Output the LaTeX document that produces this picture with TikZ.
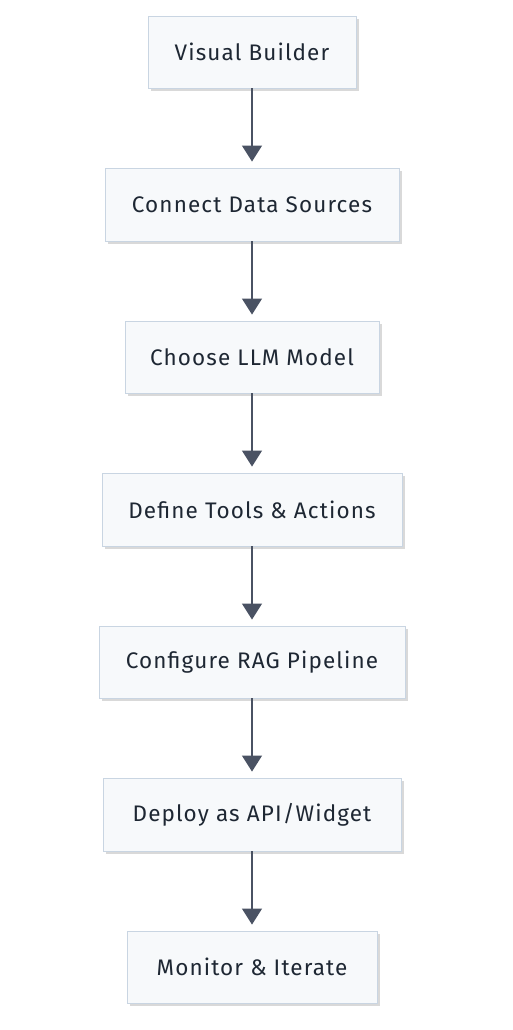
\documentclass[tikz,border=0pt]{standalone}
\usepackage{fontspec}
\setmainfont{Fira Sans}[LetterSpace=5]
\usetikzlibrary{shadows,arrows.meta}
\definecolor{boxfill}{HTML}{F7F9FB}
\definecolor{boxline}{HTML}{C9D5E2}
\definecolor{arrowc}{HTML}{4A5263}
\definecolor{textc}{HTML}{1E2733}
\tikzset{
  stepbox/.style={draw=boxline, line width=0.9pt, fill=boxfill, inner sep=0pt,
    font=\fontsize{22.5}{26}\selectfont, text=textc,
    drop shadow={shadow xshift=2.5pt, shadow yshift=-3pt, fill=black, opacity=0.15}},
  flow/.style={draw=arrowc, line width=1.3pt, -{Triangle[width=20pt,length=16pt]}, shorten >=6pt}
}
\begin{document}
\begin{tikzpicture}[x=1pt,y=-1pt]
\useasboundingbox (0,0) rectangle (513,1030);
\node[stepbox, minimum width=208pt, minimum height=72pt] (n1) at (252,52) {Visual Builder};
\node[stepbox, minimum width=294pt, minimum height=73pt] (n2) at (252,204.5) {Connect Data Sources};
\node[stepbox, minimum width=254pt, minimum height=72pt] (n3) at (252,357) {Choose LLM Model};
\node[stepbox, minimum width=300pt, minimum height=73pt] (n4) at (252,509.5) {Define Tools \& Actions};
\node[stepbox, minimum width=306pt, minimum height=72pt] (n5) at (252,662) {Configure RAG Pipeline};
\node[stepbox, minimum width=298pt, minimum height=73pt] (n6) at (252,814.5) {Deploy as API/Widget};
\node[stepbox, minimum width=250pt, minimum height=72pt] (n7) at (252,967) {Monitor \& Iterate};
\draw[flow] (n1.south) -- (n2.north);
\draw[flow] (n2.south) -- (n3.north);
\draw[flow] (n3.south) -- (n4.north);
\draw[flow] (n4.south) -- (n5.north);
\draw[flow] (n5.south) -- (n6.north);
\draw[flow] (n6.south) -- (n7.north);
\end{tikzpicture}
\end{document}
